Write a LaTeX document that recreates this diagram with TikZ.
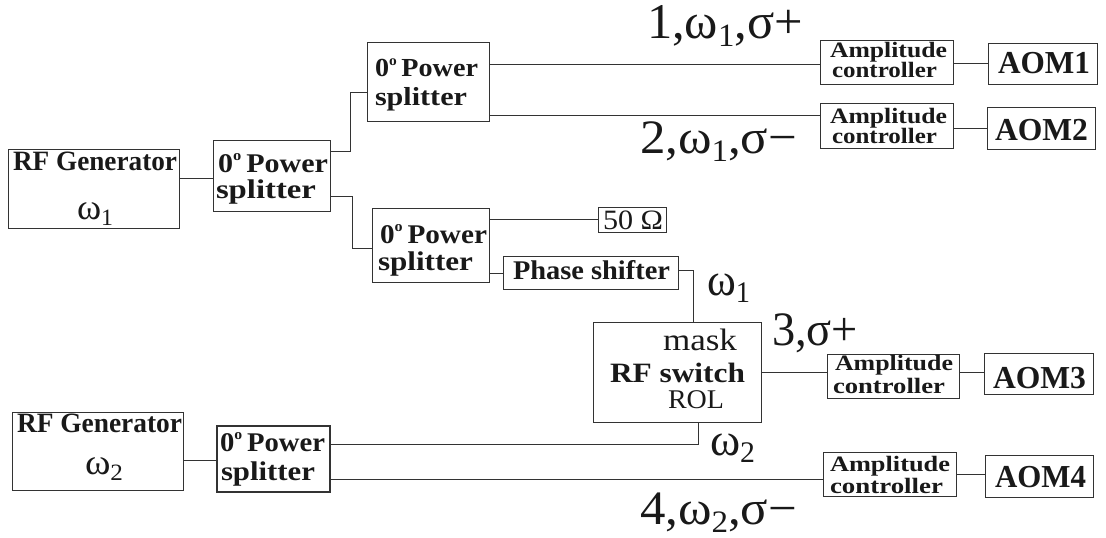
\documentclass[tikz,border=0pt]{standalone}
\usepackage{fontspec}
\setmainfont{Liberation Serif}
\usepackage{graphicx}
\usetikzlibrary{fit}
\newcommand\fit[2]{\resizebox{#1pt}{\height}{#2}}
\newcommand\sz[1]{\fontsize{#1}{#1}\selectfont}
\newcommand\lo[1]{\raisebox{-0.17em}{\scalebox{0.65}{#1}}}
\newcommand\dg{\raisebox{0.42em}{\scalebox{0.55}{o}}\,}
\begin{document}
\begin{tikzpicture}[x=1pt,y=-1pt,
  box/.style={draw=black!80, line width=1pt, inner sep=0pt},
  wire/.style={draw=black!80, line width=1pt},
  txt/.style={anchor=base west, inner sep=0pt, outer sep=0pt, text=black!90}]
\useasboundingbox (0,0) rectangle (1106,538);
% boxes
\node[box, fit={(8,149)(179,228)}] (gen1) {};
\node[box, fit={(213,140)(330,211)}] (splitA) {};
\node[box, fit={(367,42)(489,121)}] (splitB) {};
\node[box, fit={(372,208)(489,282)}] (splitC) {};
\node[box, fit={(598,207)(666,232)}] (fifty) {};
\node[box, fit={(503,256)(678,289)}] (ps) {};
\node[box, fit={(593,322)(761,422)}] (sw) {};
\node[box, fit={(12,412)(183,490)}] (gen2) {};
\node[box, line width=2.2pt, fit={(217,426)(330,492)}] (splitD) {};
\node[box, fit={(820,40)(953,84)}] (ac1) {};
\node[box, fit={(988,43)(1097,84)}] (aom1) {};
\node[box, fit={(820,103)(953,148)}] (ac2) {};
\node[box, fit={(987,107)(1095,149)}] (aom2) {};
\node[box, fit={(827,354)(959,398)}] (ac3) {};
\node[box, fit={(984,353)(1093,394)}] (aom3) {};
\node[box, fit={(823,452)(956,496)}] (ac4) {};
\node[box, fit={(985,455)(1093,497)}] (aom4) {};
% connectors
\draw[wire] (gen1.east |- 0,178) -- (splitA.west |- 0,178);
\draw[wire] (splitA.east |- 0,151) -- ++(20,0) |- (splitB.west |- 0,92);
\draw[wire] (splitA.east |- 0,196) -- ++(22,0) |- (splitC.west |- 0,248);
\draw[wire] (splitB.east |- 0,64) -- (ac1.west |- 0,64);
\draw[wire] (splitB.east |- 0,115) -- (ac2.west |- 0,115);
\draw[wire] (ac1.east |- 0,63) -- (aom1.west |- 0,63);
\draw[wire] (ac2.east |- 0,128) -- (aom2.west |- 0,128);
\draw[wire] (splitC.east |- 0,219) -- (fifty.west |- 0,219);
\draw[wire] (splitC.east |- 0,273) -- (ps.west |- 0,273);
\draw[wire] (ps.east |- 0,270) -| (sw.north -| 693,0);
\draw[wire] (sw.east |- 0,372) -- (ac3.west |- 0,372);
\draw[wire] (ac3.east |- 0,372) -- (aom3.west |- 0,372);
\draw[wire] (gen2.east |- 0,460) -- (splitD.west |- 0,460);
\draw[wire] (splitD.east |- 0,444) -| (sw.south -| 698,0);
\draw[wire] (splitD.east |- 0,479) -- (ac4.west |- 0,479);
\draw[wire] (ac4.east |- 0,474) -- (aom4.west |- 0,474);
% texts in boxes
\node[txt] (g1a) at (13,170) {\fit{164}{\sz{28}\bfseries RF Generator}};
\node[txt] (g1b) at (77,219) {\fit{36}{\sz{36}ω\lo{1}}};
\node[txt] (g2a) at (17,432) {\fit{165}{\sz{28}\bfseries RF Generator}};
\node[txt] (g2b) at (85,474) {\fit{38}{\sz{36}ω\lo{2}}};
\node[txt] (sAa) at (218,172) {\fit{110}{\sz{27}\bfseries 0\dg Power}};
\node[txt] (sAb) at (216,198) {\fit{100}{\sz{27}\bfseries splitter}};
\node[txt] (sBa) at (375,76) {\fit{103}{\sz{26}\bfseries 0\dg Power}};
\node[txt] (sBb) at (375,105) {\fit{92}{\sz{26}\bfseries splitter}};
\node[txt] (sCa) at (380,243) {\fit{107}{\sz{27}\bfseries 0\dg Power}};
\node[txt] (sCb) at (378,270) {\fit{95}{\sz{27}\bfseries splitter}};
\node[txt] (sDa) at (220,451) {\fit{105}{\sz{27}\bfseries 0\dg Power}};
\node[txt] (sDb) at (221,480) {\fit{94}{\sz{27}\bfseries splitter}};
\node[txt] (fiftyt) at (603,229) {\fit{60}{\sz{28}50 Ω}};
\node[txt] (pst) at (513,279) {\fit{157}{\sz{27}\bfseries Phase shifter}};
\node[txt] (swa) at (663,350) {\fit{74}{\sz{31}mask}};
\node[txt] (swb) at (610,382) {\fit{135}{\sz{28}\bfseries RF switch}};
\node[txt] (swc) at (668,408) {\fit{56}{\sz{27}ROL}};
\node[txt] (a1a) at (830,57) {\fit{117}{\sz{22}\bfseries Amplitude}};
\node[txt] (a1b) at (832,77) {\fit{105}{\sz{22}\bfseries controller}};
\node[txt] (a2a) at (830,123) {\fit{117}{\sz{22}\bfseries Amplitude}};
\node[txt] (a2b) at (832,143) {\fit{105}{\sz{22}\bfseries controller}};
\node[txt] (a3a) at (835,370) {\fit{118}{\sz{22}\bfseries Amplitude}};
\node[txt] (a3b) at (833,393) {\fit{112}{\sz{22}\bfseries controller}};
\node[txt] (a4a) at (830,471) {\fit{120}{\sz{22}\bfseries Amplitude}};
\node[txt] (a4b) at (830,493) {\fit{113}{\sz{22}\bfseries controller}};
\node[txt] (o1) at (998,73) {\fit{92}{\sz{32}\bfseries AOM1}};
\node[txt] (o2) at (995,140) {\fit{93}{\sz{32}\bfseries AOM2}};
\node[txt] (o3) at (993,388) {\fit{93}{\sz{32}\bfseries AOM3}};
\node[txt] (o4) at (995,487) {\fit{91}{\sz{32}\bfseries AOM4}};
% labels
\node[txt] (l1) at (647,38) {\fit{156}{\sz{50}1,ω\lo{1},σ+}};
\node[txt] (l2) at (640,153) {\fit{157}{\sz{48}2,ω\lo{1},σ−}};
\node[txt] (l3) at (707,295) {\fit{43}{\sz{46}ω\lo{1}}};
\node[txt] (l4) at (772,345) {\fit{86}{\sz{48}3,σ+}};
\node[txt] (l5) at (710,455) {\fit{45}{\sz{46}ω\lo{2}}};
\node[txt] (l6) at (640,524) {\fit{157}{\sz{48}4,ω\lo{2},σ−}};
\end{tikzpicture}
\end{document}
